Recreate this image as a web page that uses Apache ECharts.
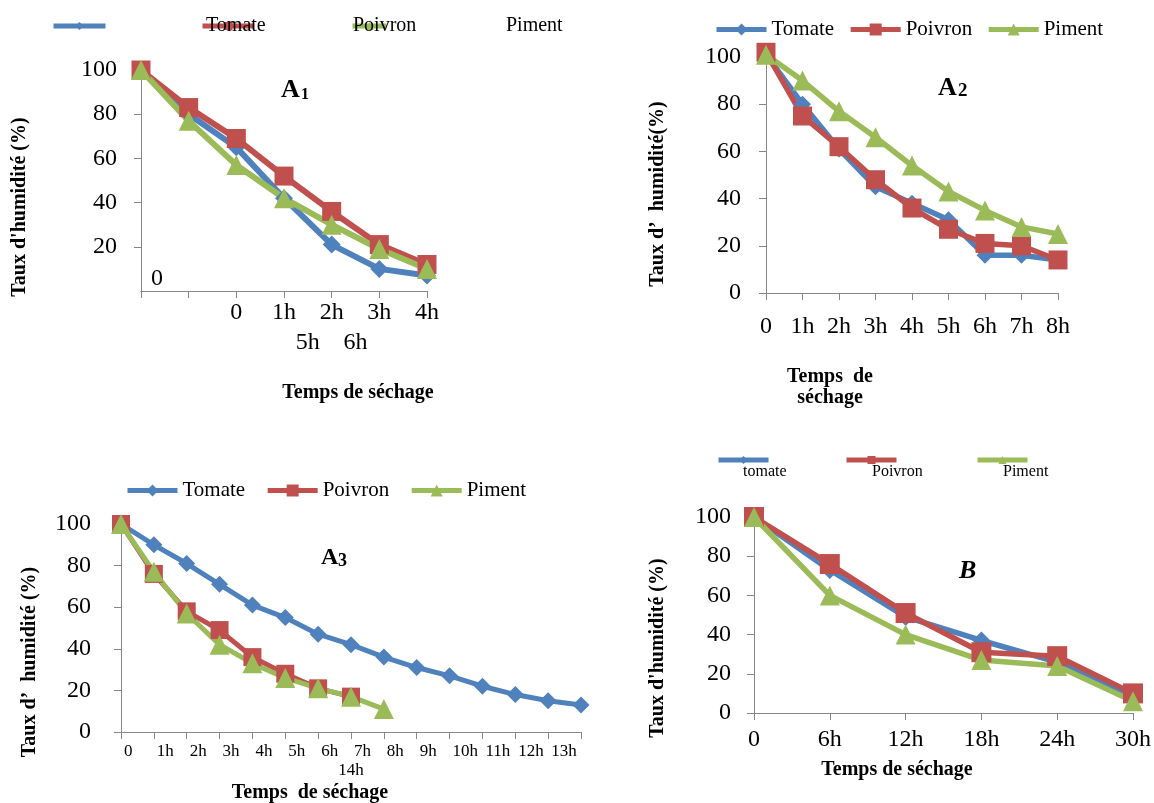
<!DOCTYPE html>
<html>
<head>
<meta charset="utf-8">
<script src="https://cdn.jsdelivr.net/npm/echarts@6/dist/echarts.min.js"></script>
<style>
  html, body { margin: 0; padding: 0; background: #ffffff; }
  #chart { width: 1154px; height: 803px; }
</style>
</head>
<body>
<div id="chart"></div>
<script>
// Drying curves: moisture content (%) of tomato, sweet pepper and chili over drying time

// Panel A1
const A1_HOURS = ['', '', '0', '1h', '2h', '3h', '4h'];
const A1_HOURS_WRAP = ['', '', '', '5h', '6h', ''];
const A1_TOMATE = [100, 80, 65, 42, 21, 10, 7];
const A1_POIVRON = [100, 83, 69, 52, 36, 21, 12];
const A1_PIMENT = [100, 77, 57, 42, 30, 19, 10];

// Panel A2
const A2_HOURS = ['0', '1h', '2h', '3h', '4h', '5h', '6h', '7h', '8h'];
const A2_TOMATE = [101, 80, 61, 45, 38, 31, 16, 16, 14];
const A2_POIVRON = [102, 75, 62, 48, 36, 27, 21, 20, 14];
const A2_PIMENT = [101, 90, 77, 66, 54, 43, 35, 28, 25];

// Panel A3
const A3_HOURS = ['0', '1h', '2h', '3h', '4h', '5h', '6h', '7h', '8h', '9h', '10h', '11h', '12h', '13h', '14h'];
const A3_HOURS_WRAP = ['', '', '', '', '', '', '', '14h', '', '', '', '', '', '', ''];
const A3_TOMATE = [100, 90, 81, 71, 61, 55, 47, 42, 36, 31, 27, 22, 18, 15, 13];
const A3_POIVRON = [100, 76, 58, 49, 36, 28, 21, 17];
const A3_PIMENT = [100, 77, 57, 42, 33, 26, 21, 17, 11];

// Panel B
const B_HOURS = ['0', '6h', '12h', '18h', '24h', '30h'];
const B_TOMATE = [100, 73, 49, 37, 26, 8];
const B_POIVRON = [100, 76, 51, 31, 29, 10];
const B_PIMENT = [100, 60, 40, 27, 24, 6];

const BLUE = '#4F81BD';
const RED = '#C0504D';
const GREEN = '#9BBB59';
const SERIF = 'Liberation Serif, Times New Roman, serif';
const AXIS_GREY = '#868686';

function lineSeries(name, data, xi, yi, color, symbol, size, width) {
  return {
    type: 'line', name: name, data: data,
    xAxisIndex: xi, yAxisIndex: yi,
    symbol: symbol, symbolSize: size, showAllSymbol: true,
    clip: false, animation: false,
    lineStyle: { color: color, width: width },
    itemStyle: { color: color }
  };
}

function catAxis(grid, data, opts) {
  return Object.assign({
    type: 'category', gridIndex: grid, data: data, boundaryGap: false,
    axisLine: { show: true, lineStyle: { color: AXIS_GREY, width: 1 } },
    axisTick: { show: true, interval: 0, length: 7, lineStyle: { color: AXIS_GREY } },
    axisLabel: { interval: 0, color: '#000', fontFamily: SERIF, fontSize: 24, margin: 10 },
    splitLine: { show: false }
  }, opts || {});
}

function wrapAxis(grid, data, offset, fontSize, boundaryGap) {
  return {
    type: 'category', gridIndex: grid, data: data, position: 'bottom', offset: offset,
    boundaryGap: boundaryGap,
    axisLine: { show: false }, axisTick: { show: false }, splitLine: { show: false },
    axisLabel: { interval: 0, color: '#000', fontFamily: SERIF, fontSize: fontSize, margin: 10 }
  };
}

function valAxis(grid, margin, opts) {
  return Object.assign({
    type: 'value', gridIndex: grid, min: 0, max: 100, interval: 20, position: 'left',
    axisLine: { show: true, lineStyle: { color: AXIS_GREY, width: 1 } },
    axisTick: { show: true, length: 7, lineStyle: { color: AXIS_GREY } },
    axisLabel: { color: '#000', fontFamily: SERIF, fontSize: 24, margin: margin },
    splitLine: { show: false }
  }, opts || {});
}

// Legend that shows only the series swatch (line + marker)
function iconLegend(name, left, top, w) {
  return {
    data: [name], left: left, top: top, padding: 0, selectedMode: false,
    itemWidth: w, itemHeight: 10, formatter: function () { return ''; },
    lineStyle: { width: 5 }
  };
}
// Legend that shows only the series name
function textLegend(name, left, top, fontSize) {
  return {
    data: [name], left: left, top: top, padding: 0, selectedMode: false,
    icon: 'none', itemWidth: 0, itemHeight: fontSize,
    textStyle: { color: '#000', fontFamily: SERIF, fontSize: fontSize }
  };
}
function fullLegend(names, left, top, gap) {
  return {
    data: names, left: left, top: top, padding: 0, selectedMode: false,
    itemWidth: 50, itemHeight: 15, itemGap: gap,
    lineStyle: { width: 5 },
    textStyle: { color: '#000', fontFamily: SERIF, fontSize: 21 }
  };
}

function label(text, x, y, font, align, rot) {
  return {
    type: 'text', x: x, y: y, rotation: rot || 0, silent: true,
    style: { text: text, font: font, fill: '#000', textAlign: align || 'center', textVerticalAlign: 'middle' }
  };
}

const TITLE_FONT = 'bold 20px ' + SERIF;

const option = {
  backgroundColor: '#ffffff',
  animation: false,
  grid: [
    { left: 141, top: 70, width: 286, height: 221 },
    { left: 766, top: 57, width: 292, height: 236 },
    { left: 121, top: 524, width: 460, height: 208 },
    { left: 754, top: 517, width: 380, height: 196 }
  ],
  xAxis: [
    catAxis(0, A1_HOURS, {}),
    wrapAxis(0, A1_HOURS_WRAP, 30, 24, true),
    catAxis(1, A2_HOURS, { axisLabel: { interval: 0, color: '#000', fontFamily: SERIF, fontSize: 24, margin: 22 } }),
    catAxis(2, A3_HOURS, {
      axisLabel: {
        interval: function (i) { return i < A3_HOURS.length - 1; },
        color: '#000', fontFamily: SERIF, fontSize: 17, margin: 11, align: 'left', padding: [0, 0, 0, 3]
      }
    }),
    wrapAxis(2, A3_HOURS_WRAP, 20, 17, false),
    catAxis(3, B_HOURS, { axisLabel: { interval: 0, color: '#000', fontFamily: SERIF, fontSize: 24, margin: 15 } })
  ],
  yAxis: [
    valAxis(0, 24, { axisLabel: { color: '#000', fontFamily: SERIF, fontSize: 24, margin: 24, showMinLabel: false } }),
    {
      // the zero label of A1 sits inside the plot, just right of the axis
      type: 'value', gridIndex: 0, min: 0, max: 100, interval: 20, position: 'left',
      axisLine: { show: false }, axisTick: { show: false }, splitLine: { show: false },
      axisLabel: {
        inside: true, margin: 10, verticalAlign: 'bottom',
        color: '#000', fontFamily: SERIF, fontSize: 24,
        formatter: function (v) { return v === 0 ? '0' : ''; }
      }
    },
    valAxis(1, 25),
    valAxis(2, 30),
    valAxis(3, 23)
  ],
  legend: [
    // A1 (swatches and names are laid out apart)
    iconLegend('Tomate', 51, 21, 52),
    iconLegend('Poivron', 200, 21, 52),
    iconLegend('Piment', 350, 21, 34),
    textLegend('Tomate', 201, 16, 20),
    textLegend('Poivron', 348, 16, 20),
    textLegend('Piment', 501, 16, 20),
    // A2
    fullLegend(['Tomate', 'Poivron', 'Piment'], 714, 19, 14),
    // A3
    fullLegend(['Tomate', 'Poivron', 'Piment'], 125, 480, 20),
    // B (names under the swatches)
    iconLegend('tomate', 716, 455, 50),
    iconLegend('Poivron', 844, 455, 50),
    iconLegend('Piment', 975, 455, 50),
    textLegend('tomate', 738, 464, 16),
    textLegend('Poivron', 867, 464, 16),
    textLegend('Piment', 998, 464, 16)
  ],
  series: [
    lineSeries('Tomate', A1_TOMATE, 0, 0, BLUE, 'diamond', 18, 6),
    lineSeries('Poivron', A1_POIVRON, 0, 0, RED, 'rect', 19, 6),
    lineSeries('Piment', A1_PIMENT, 0, 0, GREEN, 'triangle', 20, 6),

    lineSeries('Tomate', A2_TOMATE, 2, 2, BLUE, 'diamond', 17, 5.5),
    lineSeries('Poivron', A2_POIVRON, 2, 2, RED, 'rect', 19, 5.5),
    lineSeries('Piment', A2_PIMENT, 2, 2, GREEN, 'triangle', 20, 5.5),

    lineSeries('Tomate', A3_TOMATE, 3, 3, BLUE, 'diamond', 17, 5),
    lineSeries('Poivron', A3_POIVRON, 3, 3, RED, 'rect', 18, 5),
    lineSeries('Piment', A3_PIMENT, 3, 3, GREEN, 'triangle', 20, 5),

    lineSeries('tomate', B_TOMATE, 5, 4, BLUE, 'diamond', 18, 5.5),
    lineSeries('Poivron', B_POIVRON, 5, 4, RED, 'rect', 20, 5.5),
    lineSeries('Piment', B_PIMENT, 5, 4, GREEN, 'triangle', 20, 5.5)
  ],
  graphic: [
    // panel tags
    label('A', 281, 90, 'bold 26px ' + SERIF, 'left'),
    label('1', 301, 95, 'bold 16px ' + SERIF, 'left'),
    label('A', 938, 88, 'bold 26px ' + SERIF, 'left'),
    label('2', 958, 91, 'bold 19px ' + SERIF, 'left'),
    label('A', 321, 558, 'bold 24px ' + SERIF, 'left'),
    label('3', 338, 561, 'bold 18px ' + SERIF, 'left'),
    label('B', 959, 571, 'italic bold 26px ' + SERIF, 'left'),
    // x-axis titles
    label('Temps de séchage', 358, 393, TITLE_FONT),
    label('Temps  de', 830, 377, TITLE_FONT),
    label('séchage', 830, 398, TITLE_FONT),
    label('Temps  de séchage', 310, 793, TITLE_FONT),
    label('Temps de séchage', 897, 770, TITLE_FONT),
    // y-axis titles
    label("Taux d'humidité (%)", 20, 207, TITLE_FONT, 'center', Math.PI / 2),
    label('Taux d’  humidité(%)', 658, 194, TITLE_FONT, 'center', Math.PI / 2),
    label('Taux d’  humidité (%)', 30, 662, TITLE_FONT, 'center', Math.PI / 2),
    label("Taux d'humidité (%)", 658, 648, TITLE_FONT, 'center', Math.PI / 2)
  ]
};

const chart = echarts.init(document.getElementById('chart'), null, { renderer: 'canvas' });
chart.setOption(option);
</script>
</body>
</html>
